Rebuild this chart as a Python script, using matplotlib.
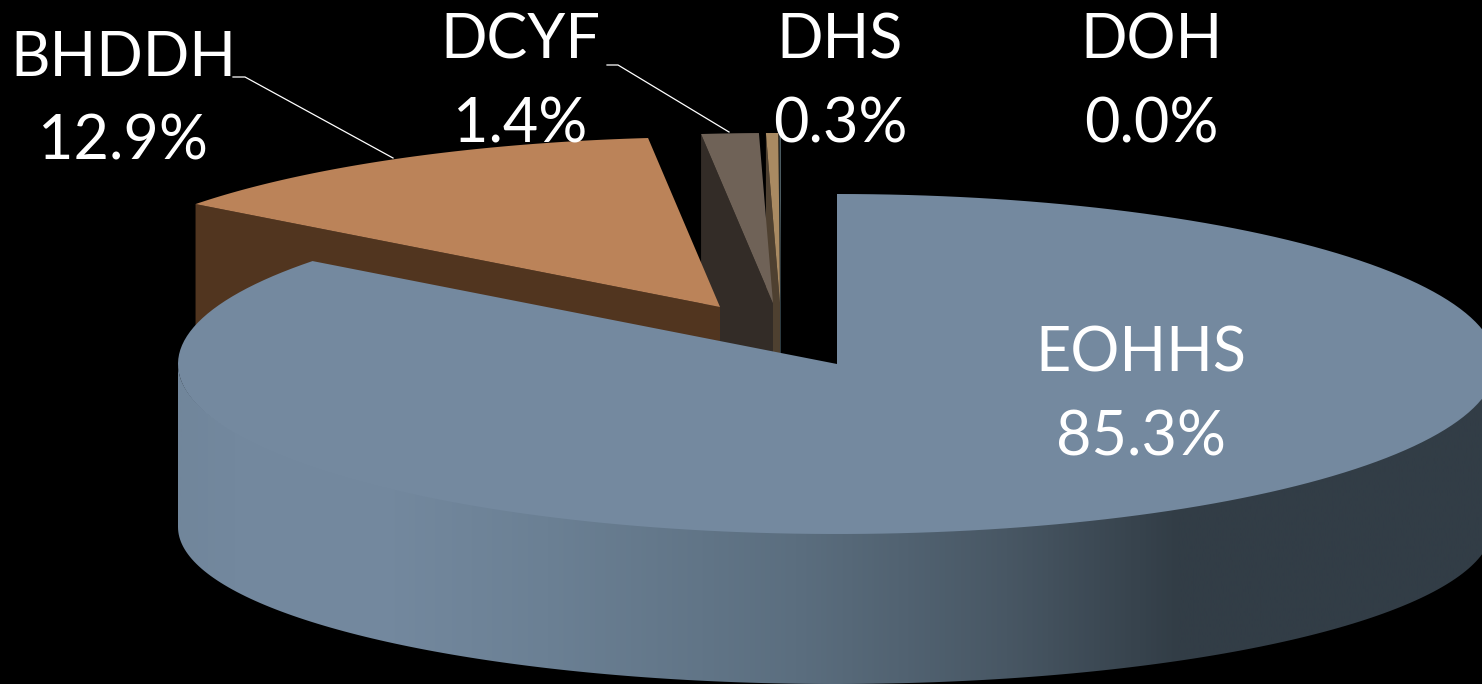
#!/usr/bin/env python3
"""Exploded 3D-style pie of spending share by department, on black."""

import numpy as np
import matplotlib
matplotlib.use('Agg')
import matplotlib.pyplot as plt
from matplotlib.colors import LinearSegmentedColormap
from matplotlib.patches import Polygon

departments = ['EOHHS', 'BHDDH', 'DCYF', 'DHS', 'DOH']
shares = [85.3, 12.9, 1.4, 0.3, 0.04]
shown_shares = [85.3, 12.9, 1.4, 0.3, 0.0]

W, H = 1482, 684
RX, RY = 659, 170
DEPTH = 165

# apex of each slice after exploding it away from the pie
apexes = [(837, 364), (720, 307), (773, 303), (780, 303), (781, 303)]
top_colors = ['#74899f', '#bb8359', '#6f6257', '#a98a62', '#4a5a60']
cut_colors = ['#33404a', '#51351f', '#332c27', '#4e4030', '#2c3a40']
label_pos = [(1141, 396), (123, 100), (520, 83), (840, 83), (1151, 83)]

plt.rcParams['font.family'] = ['Lato', 'DejaVu Sans']

fig = plt.figure(figsize=(W / 100, H / 100), dpi=100, facecolor='black')
ax = fig.add_axes([0, 0, 1, 1])
ax.set_facecolor('black')
ax.axis('off')


def rim(apex, a0, a1, rx=RX, ry=RY, n=200):
    # angles run clockwise from twelve o'clock, y grows downwards
    t = np.radians(np.linspace(a0, a1, n))
    return np.column_stack([apex[0] + rx * np.sin(t), apex[1] - ry * np.cos(t)])


edges = np.concatenate([[0], np.cumsum(shares)]) / np.sum(shares) * 360

# back slices first, the large one goes over them
for i in range(len(shares) - 1, -1, -1):
    apex = apexes[i]
    a0, a1 = edges[i], edges[i + 1]
    arc = rim(apex, a0, a1)
    if i > 0:
        # the cut face on the leading edge is the one turned towards the viewer
        tip = arc[0]
        face = [tip, apex, (apex[0], apex[1] + DEPTH), (tip[0], tip[1] + DEPTH)]
        ax.add_patch(Polygon(face, closed=True, fc=cut_colors[i], ec='none', zorder=5 - i))
    ax.add_patch(Polygon(np.vstack([[apex], arc]), closed=True, fc=top_colors[i],
                         ec='none', zorder=5 - i + 0.5))

# outer wall of the big slice, lit from the left; tucked under the top face
apex = apexes[0]
upper = rim(apex, 90, 270, ry=RY - 3)
lower = rim((apex[0] - 2, apex[1] + 163), 90, 270, rx=657, ry=157)
wall = Polygon(np.vstack([upper, lower[::-1]]), closed=True, fc='none', ec='none', zorder=5.2)
ax.add_patch(wall)
stops = [(0.0, '#71869b'), (0.04, '#73889e'), (0.15, '#74899f'), (0.28, '#6b8094'),
         (0.47, '#5b6e7f'), (0.63, '#485764'), (0.76, '#323d46'), (1.0, '#323d46')]
ramp = LinearSegmentedColormap.from_list('wall', stops)
shade = ax.imshow(np.linspace(0, 1, 512)[None, :], cmap=ramp, aspect='auto',
                  extent=(178, 1496, H, 0), zorder=5.2)
shade.set_clip_path(wall)

# leader lines for the two labels that sit beside their slices
ax.plot([233, 245, 393], [77, 77, 158], color='white', lw=0.9, zorder=8)
ax.plot([607, 618, 729], [65, 65, 132], color='white', lw=0.9, zorder=8)

for name, val, (x, y) in zip(departments, shown_shares, label_pos):
    ax.text(x, y, f'{name}\n{val:.1f}%', color='white', fontsize=44, ha='center',
            va='center', linespacing=1.58, zorder=9)

ax.set_xlim(0, W)
ax.set_ylim(H, 0)
fig.savefig('out.png', dpi=100, facecolor='black')
